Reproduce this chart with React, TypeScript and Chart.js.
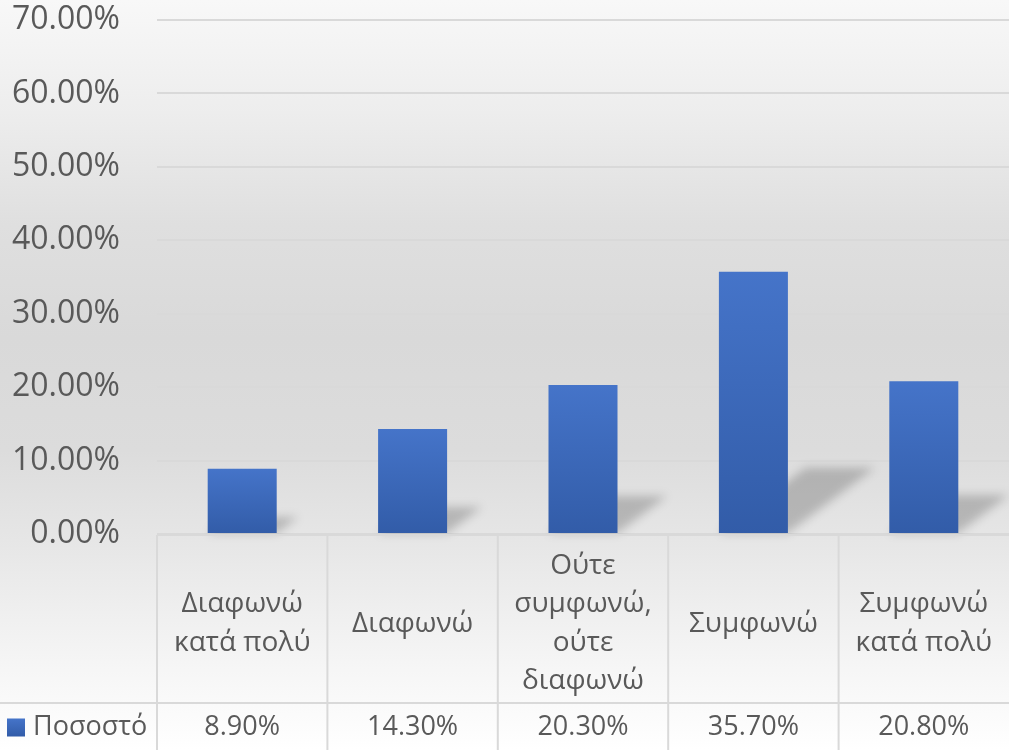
import React, { useEffect, useRef } from "react";
import { Chart, registerables } from "chart.js";

Chart.register(...registerables);

const categories: string[][] = [
  ["Διαφωνώ", "κατά πολύ"],
  ["Διαφωνώ"],
  ["Ούτε", "συμφωνώ,", "ούτε", "διαφωνώ"],
  ["Συμφωνώ"],
  ["Συμφωνώ", "κατά πολύ"],
];
const seriesName = "Ποσοστό";
const values: number[] = [8.9, 14.3, 20.3, 35.7, 20.8];
const yTicks: number[] = [0, 10, 20, 30, 40, 50, 60, 70];

const FONT = "'Open Sans', 'DejaVu Sans', sans-serif";
const TEXT = "#595959";
const LINE = "#d9d9d9";

const bgPlugin = {
  id: "bg",
  beforeDraw(chart: any) {
    const { ctx, width, height } = chart;
    const g = ctx.createLinearGradient(0, 0, 0, height);
    g.addColorStop(0, "#f8f8f8");
    g.addColorStop(0.15, "#ededed");
    g.addColorStop(0.3, "#dfdfdf");
    g.addColorStop(0.45, "#d9d9d9");
    g.addColorStop(0.6, "#dcdcdc");
    g.addColorStop(0.72, "#e6e6e6");
    g.addColorStop(0.87, "#f4f4f4");
    g.addColorStop(1, "#ffffff");
    ctx.save();
    ctx.fillStyle = g;
    ctx.fillRect(0, 0, width, height);
    ctx.restore();
  },
};

const shadowPlugin = {
  id: "barShadow",
  beforeDatasetsDraw(chart: any) {
    const { ctx } = chart;
    const meta = chart.getDatasetMeta(0);
    ctx.save();
    ctx.filter = "blur(5px)";
    ctx.fillStyle = "rgba(0,0,0,0.2)";
    meta.data.forEach((bar: any) => {
      const { x, y, base, width } = bar.getProps(["x", "y", "base", "width"], true);
      const h = base - y;
      const sh = h * 0.25;
      const dx = sh * 1.33;
      const l = x - width / 2;
      const r = x + width / 2;
      ctx.beginPath();
      ctx.moveTo(l, base);
      ctx.lineTo(r, base);
      ctx.lineTo(r + dx, base - sh);
      ctx.lineTo(l + dx, base - sh);
      ctx.closePath();
      ctx.fill();
    });
    ctx.restore();
  },
};

const tablePlugin = {
  id: "dataTable",
  afterDraw(chart: any) {
    const { ctx, chartArea, width, height } = chart;
    const xs = chart.scales.x;
    const n = values.length;
    const colW = (chartArea.right - chartArea.left) / n;
    const top = chartArea.bottom + 1;
    const rowSplit = 703;
    ctx.save();
    ctx.strokeStyle = LINE;
    ctx.lineWidth = 2;
    ctx.beginPath();
    ctx.moveTo(chartArea.left, top);
    ctx.lineTo(width, top);
    ctx.moveTo(0, rowSplit);
    ctx.lineTo(width, rowSplit);
    for (let i = 0; i < n; i++) {
      const bx = xs.getPixelForValue(i) - colW / 2;
      ctx.moveTo(bx, top);
      ctx.lineTo(bx, height);
    }
    ctx.stroke();

    const valY = (rowSplit + height) / 2 + 1;
    ctx.fillStyle = TEXT;
    ctx.font = `27px ${FONT}`;
    ctx.textAlign = "center";
    ctx.textBaseline = "middle";
    values.forEach((v, i) => {
      ctx.fillText(v.toFixed(2) + "%", xs.getPixelForValue(i), valY);
    });

    // legend key
    const kg = ctx.createLinearGradient(0, valY - 9, 0, valY + 9);
    kg.addColorStop(0, "#4574c9");
    kg.addColorStop(1, "#325ca8");
    ctx.fillStyle = kg;
    ctx.fillRect(7, valY - 9, 18, 18);
    ctx.fillStyle = TEXT;
    ctx.textAlign = "left";
    ctx.fillText(seriesName, 33, valY);
    ctx.restore();
  },
};

export default function App() {
  const ref = useRef<HTMLCanvasElement | null>(null);
  useEffect(() => {
    document.body.style.margin = "0";
    if (!ref.current) return;
    const chart = new Chart(ref.current, {
      type: "bar",
      data: {
        labels: categories as any,
        datasets: [
          {
            label: seriesName,
            data: values,
            barPercentage: 0.405,
            categoryPercentage: 1,
            backgroundColor: (c: any) => {
              const ch = c.chart;
              if (!ch.chartArea || c.raw == null) return "#4472c4";
              const ys = ch.scales.y;
              const t = ys.getPixelForValue(c.raw);
              const b = ys.getPixelForValue(0);
              const g = ch.ctx.createLinearGradient(0, t, 0, b);
              g.addColorStop(0, "#4574c9");
              g.addColorStop(1, "#325ca8");
              return g;
            },
          },
        ],
      },
      options: {
        responsive: false,
        animation: false,
        layout: { padding: { top: 20, right: 0, left: 0, bottom: 0 } },
        plugins: { legend: { display: false }, tooltip: { enabled: false } },
        scales: {
          x: {
            offset: true,
            grid: { display: false, drawTicks: false },
            border: { display: false },
            ticks: {
              color: TEXT,
              font: { family: FONT, size: 28, lineHeight: 1.375 },
              maxRotation: 0,
              autoSkip: false,
              crossAlign: "center",
              padding: 32,
            },
            afterFit: (s: any) => {
              s.height = 216;
              s.paddingLeft = 0;
              s.paddingRight = 0;
            },
          },
          y: {
            min: 0,
            max: 70,
            afterBuildTicks: (s: any) => {
              s.ticks = yTicks.map((v) => ({ value: v }));
            },
            grid: { color: LINE, lineWidth: 2, drawTicks: false },
            border: { display: false },
            ticks: {
              color: TEXT,
              font: { family: FONT, size: 32 },
              padding: 37,
              callback: (v: any) => Number(v).toFixed(2) + "%",
            },
            afterFit: (s: any) => {
              s.width = 157;
              s.paddingTop = 0;
              s.paddingBottom = 0;
            },
          },
        },
      },
      plugins: [bgPlugin, shadowPlugin, tablePlugin],
    });
    return () => chart.destroy();
  }, []);
  return (
    <div style={{ width: 1009, height: 750 }}>
      <canvas ref={ref} width={1009} height={750} />
    </div>
  );
}
